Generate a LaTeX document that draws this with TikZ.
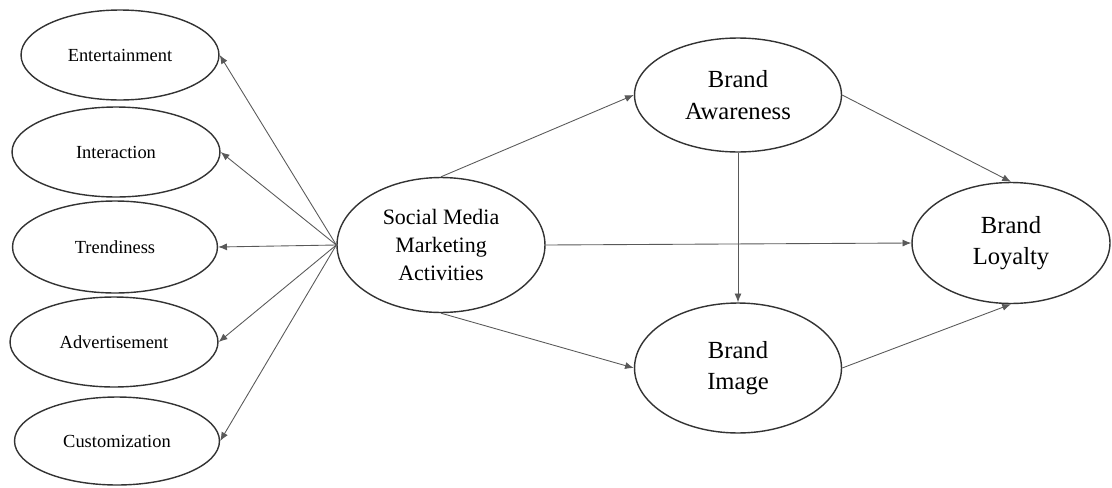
\documentclass[tikz,border=0pt]{standalone}
\usepackage{fontspec}
\setmainfont{Liberation Serif}
\usetikzlibrary{shapes.geometric,arrows.meta}

\begin{document}
\begin{tikzpicture}[
  x=0.02cm, y=-0.02cm,
  every node/.style={inner sep=0pt},
  dim/.style={ellipse,draw=black!80,line width=0.8pt,align=center,
    minimum width=4.1cm,minimum height=1.8cm,font=\fontsize{10.5}{12}\selectfont},
  core/.style={ellipse,draw=black!80,line width=0.8pt,align=center,
    minimum width=4.16cm,minimum height=2.7cm,font=\fontsize{12.5}{16}\selectfont},
  brand/.style={ellipse,draw=black!80,line width=0.8pt,align=center,
    minimum width=4.14cm,font=\fontsize{14}{18}\selectfont},
  arr/.style={-{Latex[length=5pt,width=4pt]},draw=black!65,line width=0.5pt},
]
  \useasboundingbox (0,0) rectangle (1112,487);
  % ============ dimensions ============
  \node[dim,minimum width=3.96cm] (ent) at (120,55) {Entertainment};
  \node[dim,minimum width=4.16cm] (int) at (116,152) {Interaction};
  \node[dim,minimum height=1.84cm] (trd) at (115,247) {Trendiness};
  \node[dim,minimum width=4.16cm] (adv) at (114,342) {Advertisement};
  \node[dim,minimum height=1.76cm] (cus) at (117,441) {Customization};
  % ============ constructs ============
  \node[core] (smma) at (441,245) {Social Media\\Marketing\\Activities};
  \node[brand,minimum height=2.28cm] (ba) at (738,95) {Brand\\Awareness};
  \node[brand,minimum height=2.6cm] (bi) at (738,368) {Brand\\Image};
  \node[brand,minimum width=3.96cm,minimum height=2.42cm] (bl) at (1011,243) {Brand\\Loyalty};
  % ============ paths ============
  \foreach \d in {ent,int,trd,adv,cus}
    \draw[arr] (smma.west) -- (\d.east);
  \draw[arr] (smma.north) -- (ba.west);
  \draw[arr] (smma.south) -- (bi.west);
  \draw[arr] (smma.east) -- (bl.west);
  \draw[arr] (ba.south) -- (bi.north);
  \draw[arr] (ba.east) -- (bl.north);
  \draw[arr] (bi.east) -- (bl.south);
\end{tikzpicture}
\end{document}
